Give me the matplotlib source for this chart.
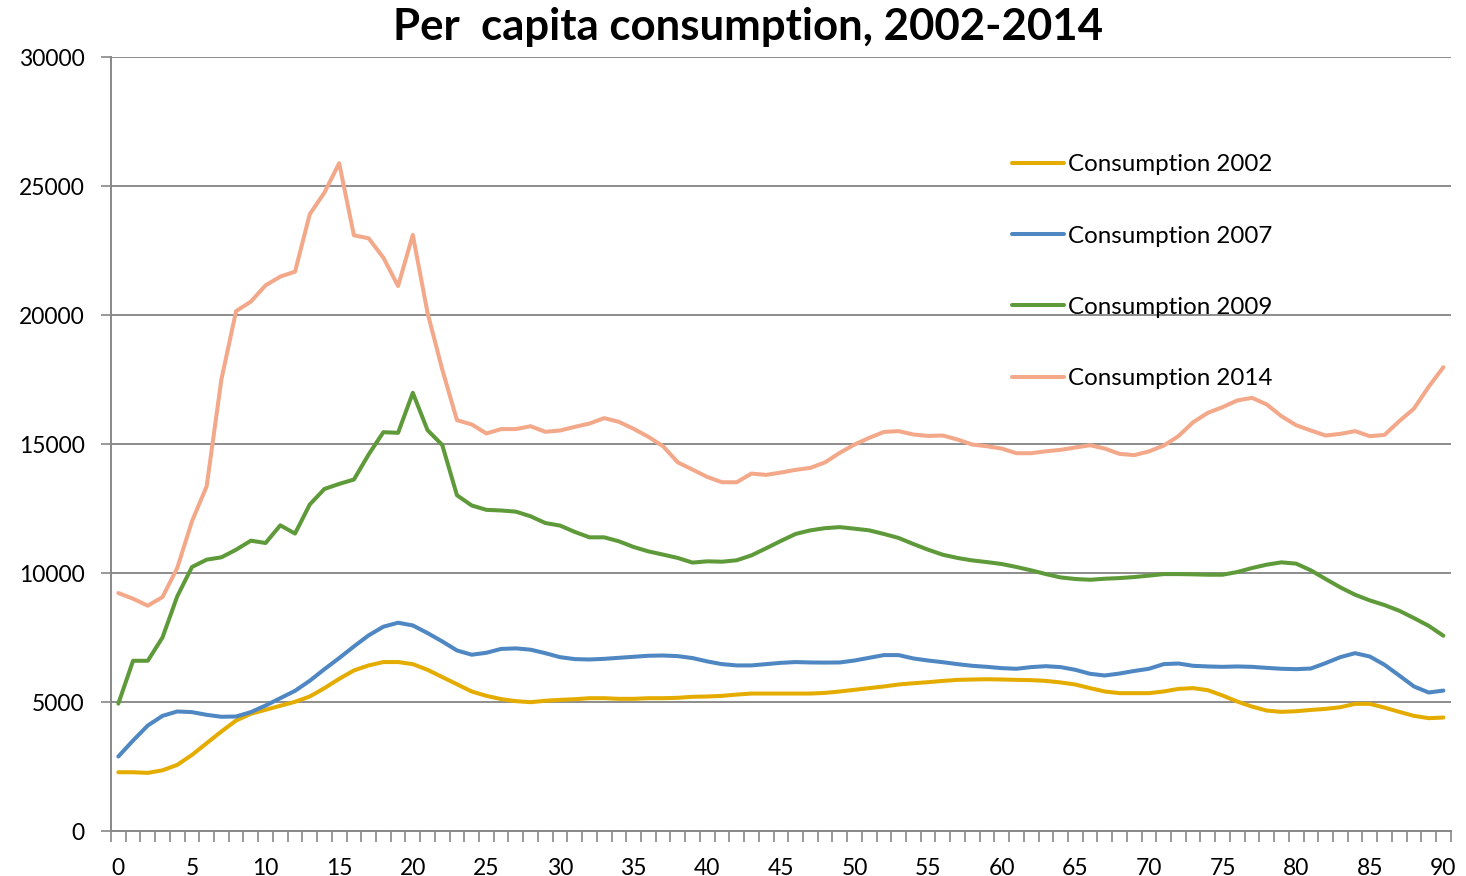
import numpy as np
import matplotlib
matplotlib.use("Agg")
import matplotlib.pyplot as plt
from matplotlib.ticker import FixedLocator

ages = list(range(0, 91))

cons_2002 = [2290, 2290, 2265, 2365, 2575, 2960, 3415, 3870, 4295, 4555,
             4710, 4865, 5020, 5225, 5550, 5910, 6235, 6430, 6560, 6560,
             6480, 6260, 5980, 5700, 5420, 5250, 5125, 5045, 5005, 5060,
             5095, 5120, 5160, 5160, 5135, 5135, 5160, 5160, 5175, 5215,
             5225, 5250, 5300, 5340, 5340, 5340, 5340, 5340, 5365, 5420,
             5485, 5550, 5615, 5690, 5740, 5780, 5830, 5870, 5885, 5895,
             5885, 5870, 5860, 5830, 5770, 5690, 5550, 5420, 5355, 5355,
             5355, 5420, 5520, 5550, 5470, 5265, 5030, 4835, 4680, 4630,
             4655, 4705, 4745, 4810, 4940, 4940, 4795, 4630, 4475, 4385,
             4410]

cons_2007 = [2900, 3520, 4100, 4475, 4645, 4620, 4515, 4440, 4450, 4620,
             4875, 5160, 5445, 5835, 6285, 6715, 7165, 7595, 7930, 8085,
             7980, 7685, 7360, 7010, 6845, 6920, 7070, 7090, 7040, 6905,
             6750, 6675, 6660, 6685, 6725, 6765, 6805, 6815, 6790, 6715,
             6585, 6480, 6430, 6430, 6480, 6530, 6560, 6545, 6540, 6545,
             6620, 6725, 6830, 6830, 6700, 6620, 6555, 6480, 6415, 6375,
             6325, 6300, 6365, 6400, 6365, 6260, 6105, 6040, 6115, 6215,
             6300, 6480, 6505, 6415, 6390, 6375, 6390, 6375, 6335, 6300,
             6285, 6310, 6520, 6750, 6905, 6775, 6455, 6040, 5615, 5380,
             5455]

cons_2009 = [4950, 6610, 6610, 7515, 9105, 10245, 10530, 10620, 10915, 11265,
             11175, 11860, 11540, 12665, 13270, 13465, 13635, 14605, 15470, 15445,
             16995, 15550, 14975, 13025, 12630, 12460, 12435, 12390, 12210, 11950,
             11850, 11605, 11395, 11395, 11240, 11020, 10850, 10725, 10595, 10415,
             10465, 10450, 10505, 10695, 10970, 11255, 11525, 11665, 11750, 11790,
             11730, 11665, 11525, 11370, 11135, 10915, 10720, 10595, 10500, 10435,
             10360, 10245, 10115, 9970, 9840, 9780, 9750, 9790, 9815, 9855,
             9910, 9970, 9970, 9960, 9945, 9945, 10050, 10205, 10335, 10425,
             10375, 10115, 9780, 9455, 9170, 8950, 8770, 8550, 8265, 7965,
             7580]

cons_2014 = [9235, 9015, 8745, 9080, 10205, 12015, 13375, 17515, 20165, 20530,
             21160, 21500, 21690, 23915, 24760, 25895, 23100, 22985, 22235, 21135,
             23115, 20100, 17900, 15935, 15770, 15420, 15590, 15590, 15700, 15485,
             15535, 15675, 15805, 16015, 15870, 15600, 15290, 14925, 14300, 14020,
             13735, 13530, 13530, 13865, 13815, 13905, 14010, 14085, 14300, 14670,
             14990, 15250, 15480, 15510, 15380, 15325, 15340, 15185, 14990, 14925,
             14835, 14655, 14655, 14730, 14785, 14875, 14965, 14835, 14630, 14580,
             14725, 14950, 15315, 15855, 16220, 16440, 16700, 16800, 16545, 16090,
             15740, 15535, 15340, 15405, 15510, 15315, 15365, 15895, 16385, 17230,
             17990]

series_labels = ["Consumption 2002", "Consumption 2007",
                 "Consumption 2009", "Consumption 2014"]
series_colors = ["#E5AC00", "#4E87C2", "#5E9A39", "#F3A88A"]

plt.rcParams['font.family'] = ['Lato', 'DejaVu Sans']

fig = plt.figure(figsize=(14.66, 8.76), dpi=100)
ax = fig.add_axes([0.0757, 0.0510, 0.9139, 0.8836])

for vals, lab, col in zip([cons_2002, cons_2007, cons_2009, cons_2014],
                          series_labels, series_colors):
    ax.plot(ages, vals, color=col, lw=2.9, label=lab, solid_capstyle="round",
            solid_joinstyle="round", zorder=3)

ax.set_xlim(-0.5, 90.5)
ax.set_ylim(0, 30000)
ax.set_yticks(np.arange(0, 30001, 5000))
ax.set_xticks(np.arange(0, 91, 5))
ax.xaxis.set_minor_locator(FixedLocator(np.arange(-0.5, 91, 1)))
ax.tick_params(axis="x", which="major", length=0, labelsize=16.5, pad=19)
ax.tick_params(axis="x", which="minor", length=8, width=1.2, color="#888888",
               direction="out")
ax.tick_params(axis="y", which="major", length=7, width=1.2, color="#888888",
               labelsize=16.5, pad=12)

ax.grid(axis="y", color="#8C8C8C", lw=1.4, zorder=1)
ax.set_axisbelow(True)
for side in ["top", "right"]:
    ax.spines[side].set_visible(False)
for side in ["left", "bottom"]:
    ax.spines[side].set_color("#888888")
    ax.spines[side].set_linewidth(1.4)

fig.text(0.51, 0.969, "Per  capita consumption, 2002-2014", ha="center",
         va="center", fontsize=31.5, fontweight="bold")

ax.legend(loc="upper left", bbox_to_anchor=(0.665, 0.887), frameon=False,
          fontsize=17.4, handlelength=2.15, handletextpad=0.2, labelspacing=2.08,
          borderaxespad=0)

fig.savefig("out.png", dpi=100)
